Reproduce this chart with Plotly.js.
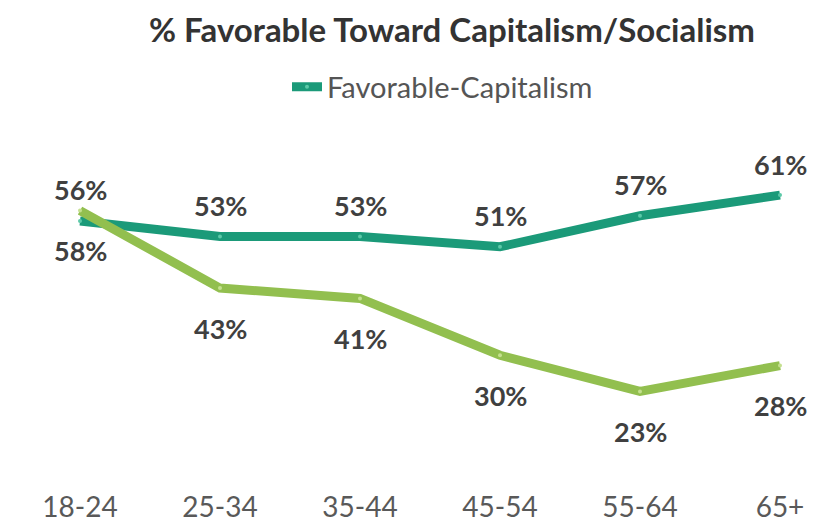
<!DOCTYPE html>
<html>
<head>
<meta charset="utf-8">
<script src="https://cdn.plot.ly/plotly-3.0.1.min.js"></script>
<style>html,body{margin:0;padding:0;background:#fff;}#chart{width:840px;height:523px;}</style>
</head>
<body>
<div id="chart"></div>
<script>
var categories = ["18-24", "25-34", "35-44", "45-54", "55-64", "65+"];
var capitalism = [56, 53, 53, 51, 57, 61];
var socialism = [58, 43, 41, 30, 23, 28];
var seriesNames = ["Favorable-Capitalism", "Favorable-Socialism"];

var teal = "#1b9a79";
var green = "#92bf4f";

var traces = [
  {
    x: categories, y: capitalism, name: seriesNames[0], type: "scatter", mode: "lines+markers",
    line: {color: teal, width: 9},
    marker: {color: "#5cc9a8", size: 4},
    showlegend: true
  },
  {
    x: categories, y: socialism, name: seriesNames[1], type: "scatter", mode: "lines+markers",
    line: {color: green, width: 9},
    marker: {color: "#c4e08e", size: 4},
    showlegend: false
  }
];

var labelFont = {family: "Lato", size: 27, color: "#404040", weight: "bold"};
var annotations = [];
categories.forEach(function(c, i) {
  annotations.push({x: c, y: capitalism[i], xref: "x", yref: "y", text: capitalism[i] + "%",
    showarrow: false, yshift: 31, font: labelFont});
  annotations.push({x: c, y: socialism[i], xref: "x", yref: "y", text: socialism[i] + "%",
    showarrow: false, yshift: -40, font: labelFont});
});

var layout = {
  width: 840, height: 523,
  margin: {l: 60, r: 4, t: 150, b: 35},
  paper_bgcolor: "#ffffff", plot_bgcolor: "#ffffff",
  title: {
    text: "<b>% Favorable Toward Capitalism/Socialism</b>",
    font: {family: "Lato", size: 33, color: "#333333"},
    x: 452 / 840, xanchor: "center", xref: "container",
    y: 1 - 30 / 523, yanchor: "middle", yref: "container"
  },
  showlegend: true,
  legend: {
    orientation: "h", xref: "container", yref: "container",
    x: 287 / 840, xanchor: "left", y: 1 - 87 / 523, yanchor: "middle",
    font: {family: "Lato", size: 29, color: "#555555"},
    bgcolor: "rgba(0,0,0,0)"
  },
  xaxis: {
    type: "category", range: [-0.1429, 5.4],
    showgrid: false, zeroline: false, showline: false, ticks: "",
    tickfont: {family: "Lato", size: 28, color: "#595959"}
  },
  yaxis: {
    range: [4.3, 69.73], visible: false, showgrid: false, zeroline: false
  },
  annotations: annotations
};

Plotly.newPlot("chart", traces, layout, {displayModeBar: false, staticPlot: true});
</script>
</body>
</html>
